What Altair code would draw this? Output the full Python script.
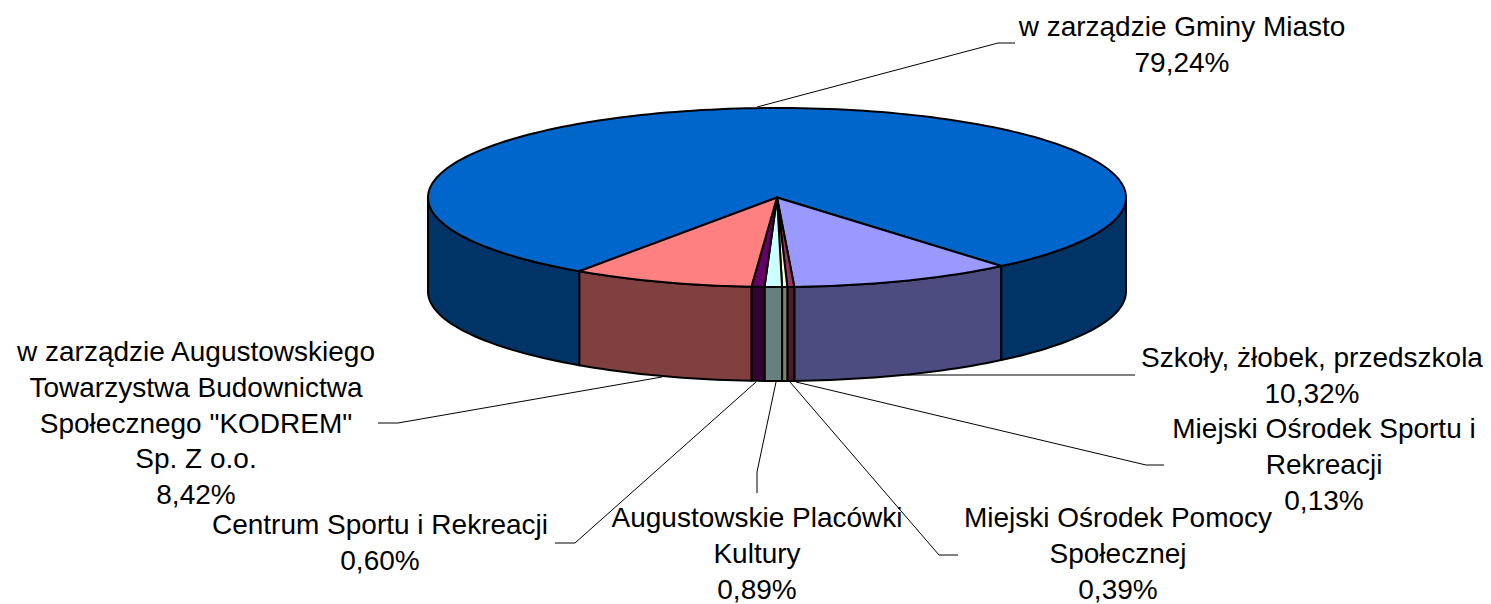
import math
import altair as alt
import pandas as pd

# Slices clockwise from the right-hand edge of "Szkoły"; shares
names = ["Szkoły", "MOSiR", "MOPS", "APK", "CSR", "KODREM", "Gmina"]
shares = [10.32, 0.32, 0.24, 0.80, 0.60, 8.42, 79.30]
top_colors = ["#9999FF", "#993366", "#FFFFCC", "#CCFFFF", "#660066", "#FF8080", "#0066CC"]
side_colors = ["#4C4C80", "#4C1A33", "#808066", "#668080", "#330033", "#804040", "#003366"]

label_lines = [
    ["w zarządzie Gminy Miasto", "79,24%"],
    ["Szkoły, żłobek, przedszkola", "10,32%"],
    ["Miejski Ośrodek Sportu i", "Rekreacji", "0,13%"],
    ["Miejski Ośrodek Pomocy", "Społecznej", "0,39%"],
    ["Augustowskie Placówki", "Kultury", "0,89%"],
    ["Centrum Sportu i Rekreacji", "0,60%"],
    ["w zarządzie Augustowskiego", "Towarzystwa Budownictwa", 'Społecznego "KODREM"', "Sp. Z o.o.", "8,42%"],
]
label_anchor = [(1182, 36), (1312, 367), (1324, 438), (1118, 527), (757, 527), (380, 534), (196, 361)]
line_step = 35.8

leaders = [
    [(757, 107), (998, 43), (1015, 43)],
    [(907, 375), (1135, 375)],
    [(796, 382), (1146, 465), (1164, 465)],
    [(790, 382), (939, 555), (958, 555)],
    [(776, 382), (757, 472), (757, 493)],
    [(756, 382), (575, 543), (555, 543)],
    [(662, 377), (398, 423), (378, 423)],
]

CX, CY, A, B, DEPTH = 777.0, 197.5, 349.0, 89.5, 94.0
START = 140.0
X_SCALE = alt.Scale(domain=[8, 1483], range=[0, 1475], nice=False, zero=False)
Y_SCALE = alt.Scale(domain=[8, 604], range=[0, 596], nice=False, zero=False)
X = alt.X("x:Q", scale=X_SCALE, axis=None)
Y = alt.Y("y:Q", scale=Y_SCALE, axis=None)


def pt(t, dy=0.0):
    r = math.radians(t)
    return CX + A * math.sin(r), CY - B * math.cos(r) + dy


def arc(t0, t1, dy=0.0):
    n = max(2, int(abs(t1 - t0) / 1.5) + 2)
    return [pt(t0 + (t1 - t0) * i / (n - 1), dy) for i in range(n)]


def polygon(points, fill, sw=2.0):
    df = pd.DataFrame({"x": [p[0] for p in points], "y": [p[1] for p in points], "i": range(len(points))})
    return alt.Chart(df).mark_line(
        fill=fill, stroke="black", strokeWidth=sw, interpolate="linear-closed", strokeJoin="round"
    ).encode(x=X, y=Y, order="i:Q")


edges = [START]
for s in shares:
    edges.append(edges[-1] + s * 3.6)

layers = []
# side walls: only the front half (t between 90 and 270) is visible
walls = []
for i, _ in enumerate(names):
    a, b = edges[i], edges[i + 1]
    spans = [(a, b)] if i < len(names) - 1 else [(a, 270.0), (90.0, START)]
    for lo, hi in spans:
        walls.append((arc(lo, hi) + arc(hi, lo, DEPTH), side_colors[i]))
for pts, c in walls:
    layers.append(polygon(pts, c))

# top faces
order = [6] + list(range(6))
for i in order:
    pts = [(CX, CY)] + arc(edges[i], edges[i + 1])
    layers.append(polygon(pts, top_colors[i]))

# leader lines
for li, pts in enumerate(leaders):
    df = pd.DataFrame({"x": [p[0] for p in pts], "y": [p[1] for p in pts], "i": range(len(pts))})
    layers.append(alt.Chart(df).mark_line(color="black", strokeWidth=1).encode(x=X, y=Y, order="i:Q"))

# labels
rows = []
for lines, (ax, ay) in zip(label_lines, label_anchor):
    for j, t in enumerate(lines):
        rows.append({"x": ax, "y": ay + j * line_step, "t": t})
layers.append(
    alt.Chart(pd.DataFrame(rows)).mark_text(
        font="Liberation Sans", fontSize=28, color="black", align="center", baseline="alphabetic"
    ).encode(x=X, y=Y, text="t:N")
)

chart = alt.layer(*layers).properties(
    width=1475, height=596, padding=0, background="white",
    autosize=alt.AutoSizeParams(type="none"),
).configure_view(stroke=None)

chart.save("out.html", embed_options={"renderer": "svg", "actions": False})
